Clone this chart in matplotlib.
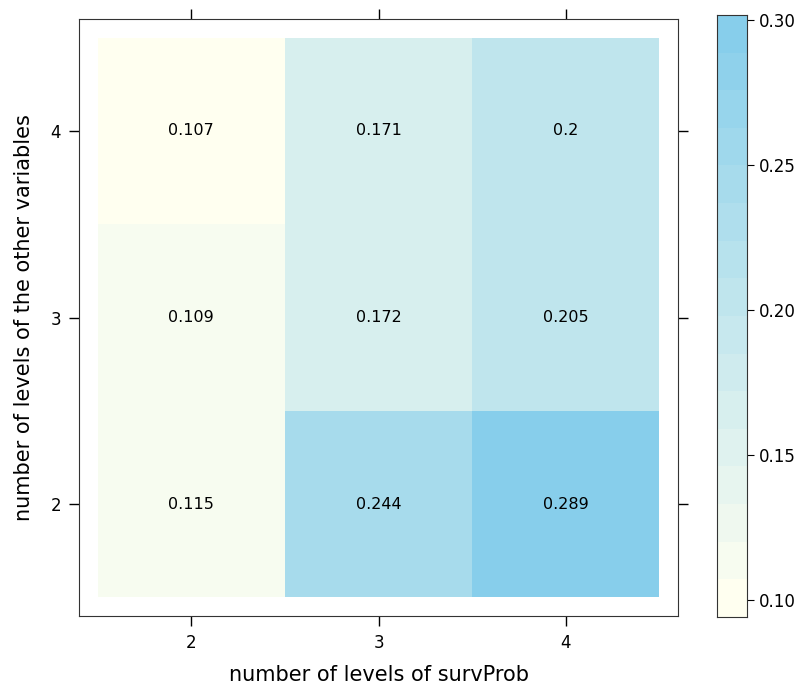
import numpy as np
import matplotlib
matplotlib.use("Agg")
from matplotlib import pyplot as plt
from matplotlib.colors import LinearSegmentedColormap, BoundaryNorm

surv_levels = [2, 3, 4]   # x categories
other_levels = [2, 3, 4]  # y categories
# rows follow other_levels (2, 3, 4), columns follow surv_levels (2, 3, 4)
values = [[0.115, 0.244, 0.289],
          [0.109, 0.172, 0.205],
          [0.107, 0.171, 0.200]]
labels = [["0.115", "0.244", "0.289"],
          ["0.109", "0.172", "0.205"],
          ["0.107", "0.171", "0.2"]]
cbar_ticks = [0.10, 0.15, 0.20, 0.25, 0.30]

z = np.array(values)
pad = 0.07 * (z.max() - z.min())  # lattice style padding of the z range
n_bands = 16  # cuts = 15
levels = np.linspace(z.min() - pad, z.max() + pad, n_bands + 1)
cmap = LinearSegmentedColormap.from_list("ivsky", ["#FFFFF0", "#87CEEB"], N=n_bands)
norm = BoundaryNorm(levels, cmap.N)

fig = plt.figure(figsize=(8.02, 6.87), dpi=100)
ax = fig.add_axes([0.0985, 0.1033, 0.7469, 0.869])

x_edges = np.arange(len(surv_levels) + 1) + surv_levels[0] - 0.5
y_edges = np.arange(len(other_levels) + 1) + other_levels[0] - 0.5
ax.pcolormesh(x_edges, y_edges, z, cmap=cmap, norm=norm)

for i, yv in enumerate(other_levels):
    for j, xv in enumerate(surv_levels):
        ax.text(xv, yv, labels[i][j], ha="center", va="center", fontsize=11.5)

ax.set_xlim(1.4, 4.6)
ax.set_ylim(1.4, 4.6)
ax.set_xticks(surv_levels)
ax.set_yticks(other_levels)
ax.tick_params(direction="out", length=7, width=1, labelsize=12, pad=6,
               top=True, right=True, labeltop=False, labelright=False)
for s in ax.spines.values():
    s.set_color("#333333")
ax.set_xlabel("number of levels of survProb", fontsize=15, labelpad=9)
ax.set_ylabel("number of levels of the other variables", fontsize=15, labelpad=12)

# colour key
cax = fig.add_axes([0.894, 0.1019, 0.0374, 0.8763])
cax.pcolormesh([0, 1], levels, np.array(levels[:-1]).reshape(-1, 1) + 1e-9,
               cmap=cmap, norm=norm)
cax.set_xlim(0, 1)
cax.set_ylim(levels[0], levels[-1])
cax.set_xticks([])
cax.yaxis.tick_right()
cax.set_yticks(cbar_ticks)
cax.set_yticklabels(["%.2f" % t for t in cbar_ticks])
cax.tick_params(direction="out", length=5, labelsize=12)
for s in cax.spines.values():
    s.set_color("#333333")

fig.savefig("out.png", dpi=100)
